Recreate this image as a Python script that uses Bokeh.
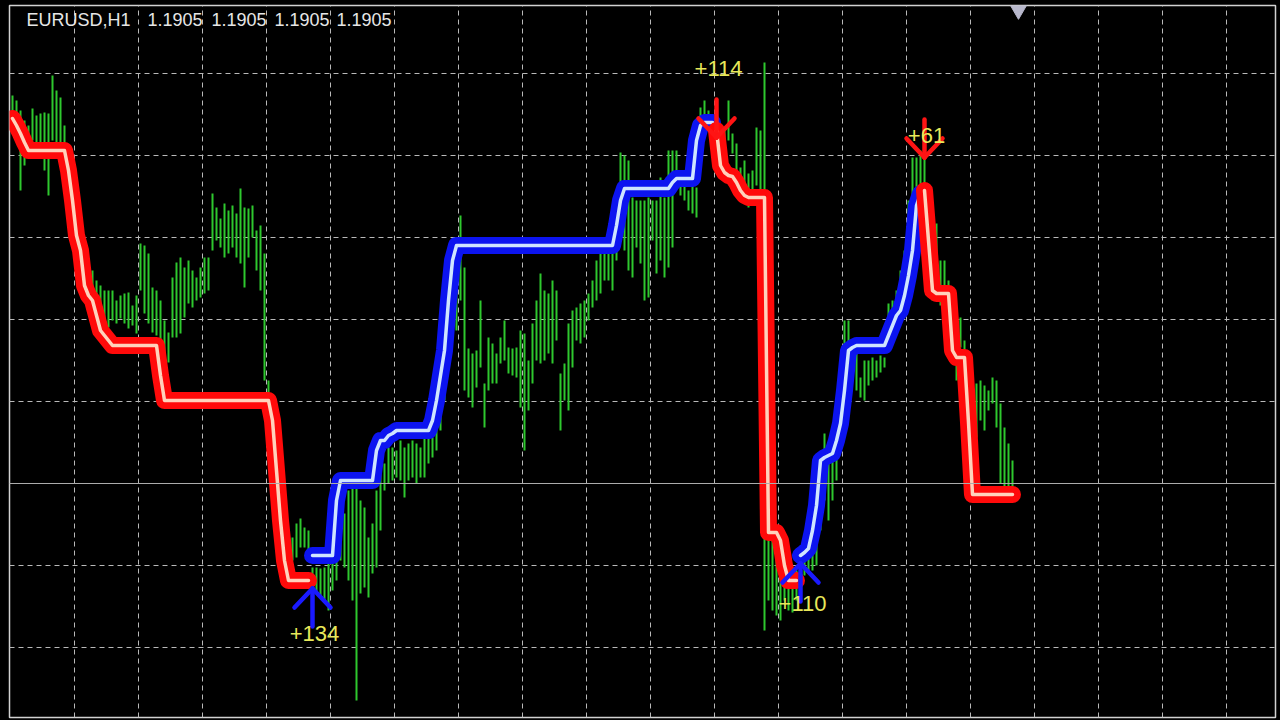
import numpy as np
from bokeh.plotting import figure
from bokeh.models import Range1d, FixedTicker, Span, Label, ColumnDataSource
from bokeh.core.properties import value
from bokeh.embed import file_html
from bokeh.resources import INLINE

# ---------------- data ----------------
symbol = "EURUSD,H1"
quote = ["1.1905", "1.1905", "1.1905", "1.1905"]
last_price = 1.1905

highs = [
    1.19826, 1.19816, 1.19796, 1.19776, 1.19766, 1.19800, 1.19786, 1.19790, 1.19792, 1.19790,
    1.19866, 1.19836, 1.19822, 1.19766, 1.19696, 1.19656, 1.19596, 1.19536, 1.19506, 1.19476,
    1.19476, 1.19456, 1.19446, 1.19436, 1.19436, 1.19436, 1.19416, 1.19426, 1.19430, 1.19432,
    1.19406, 1.19426, 1.19530, 1.19526, 1.19510, 1.19442, 1.19436, 1.19416, 1.19376, 1.19352,
    1.19462, 1.19492, 1.19502, 1.19482, 1.19496, 1.19476, 1.19462, 1.19482, 1.19502, 1.19502,
    1.19630, 1.19602, 1.19580, 1.19610, 1.19596, 1.19606, 1.19590, 1.19640, 1.19602, 1.19600,
    1.19606, 1.19556, 1.19566, 1.19510, 1.19256, 1.19216, 1.19136, 1.19056, 1.18976, 1.18956,
    1.18942, 1.18970, 1.18980, 1.18962, 1.18956, 1.18882, 1.18882, 1.18880, 1.18882, 1.18896,
    1.18936, 1.18976, 1.19016, 1.18990, 1.19036, 1.19042, 1.19042, 1.19016, 1.19002, 1.18942,
    1.18970, 1.19036, 1.19076, 1.19090, 1.19122, 1.19122, 1.19116, 1.19136, 1.19122, 1.19130,
    1.19136, 1.19130, 1.19122, 1.19142, 1.19142, 1.19142, 1.19176, 1.19256, 1.19336, 1.19436,
    1.19516, 1.19516, 1.19586, 1.19482, 1.19320, 1.19310, 1.19316, 1.19416, 1.19250, 1.19342,
    1.19330, 1.19310, 1.19342, 1.19376, 1.19322, 1.19320, 1.19322, 1.19356, 1.19350, 1.19296,
    1.19370, 1.19416, 1.19470, 1.19436, 1.19430, 1.19456, 1.19436, 1.19270, 1.19290, 1.19370,
    1.19396, 1.19402, 1.19410, 1.19416, 1.19430, 1.19456, 1.19496, 1.19516, 1.19536, 1.19526,
    1.19536, 1.19616, 1.19712, 1.19706, 1.19696, 1.19622, 1.19616, 1.19616, 1.19616, 1.19622,
    1.19616, 1.19616, 1.19662, 1.19622, 1.19716, 1.19716, 1.19716, 1.19676, 1.19650, 1.19636,
    1.19650, 1.19642, 1.19802, 1.19816, 1.19796, 1.19786, 1.19820, 1.19766, 1.19756, 1.19816,
    1.19750, 1.19730, 1.19682, 1.19696, 1.19670, 1.19676, 1.19762, 1.19756, 1.19892, 1.18956,
    1.18936, 1.18916, 1.18896, 1.18866, 1.18842, 1.18842, 1.18876, 1.18906, 1.18916, 1.18920,
    1.18956, 1.18996, 1.19096, 1.19150, 1.19116, 1.19096, 1.19136, 1.19196, 1.19376, 1.19376,
    1.19326, 1.19316, 1.19262, 1.19296, 1.19296, 1.19302, 1.19296, 1.19306, 1.19302, 1.19410,
    1.19416, 1.19436, 1.19476, 1.19516, 1.19616, 1.19702, 1.19702, 1.19716, 1.19756, 1.19636,
    1.19556, 1.19570, 1.19496, 1.19496, 1.19456, 1.19416, 1.19336, 1.19382, 1.19336, 1.19256,
    1.19216, 1.19250, 1.19256, 1.19246, 1.19236, 1.19262, 1.19256, 1.19210, 1.19162, 1.19130,
    1.19096,
]

lows = [
    1.19766, 1.19756, 1.19636, 1.19686, 1.19716, 1.19736, 1.19716, 1.19726, 1.19676, 1.19626,
    1.19736, 1.19730, 1.19732, 1.19726, 1.19616, 1.19556, 1.19496, 1.19456, 1.19416, 1.19416,
    1.19396, 1.19386, 1.19376, 1.19366, 1.19362, 1.19376, 1.19370, 1.19380, 1.19370, 1.19360,
    1.19366, 1.19350, 1.19436, 1.19390, 1.19370, 1.19352, 1.19346, 1.19296, 1.19286, 1.19292,
    1.19342, 1.19342, 1.19350, 1.19382, 1.19410, 1.19402, 1.19416, 1.19422, 1.19430, 1.19436,
    1.19516, 1.19536, 1.19522, 1.19502, 1.19510, 1.19522, 1.19502, 1.19490, 1.19442, 1.19502,
    1.19542, 1.19476, 1.19436, 1.19256, 1.19196, 1.19136, 1.19036, 1.18956, 1.18886, 1.18866,
    1.18896, 1.18902, 1.18922, 1.18922, 1.18896, 1.18842, 1.18830, 1.18822, 1.18816, 1.18796,
    1.18836, 1.18856, 1.18896, 1.18882, 1.18856, 1.18816, 1.18616, 1.18830, 1.18842, 1.18822,
    1.18870, 1.18882, 1.18956, 1.19036, 1.19050, 1.19056, 1.19062, 1.19056, 1.19022, 1.19056,
    1.19062, 1.19050, 1.19062, 1.19062, 1.19090, 1.19102, 1.19116, 1.19156, 1.19216, 1.19296,
    1.19376, 1.19356, 1.19416, 1.19236, 1.19222, 1.19202, 1.19242, 1.19282, 1.19162, 1.19236,
    1.19250, 1.19250, 1.19290, 1.19296, 1.19270, 1.19266, 1.19262, 1.19202, 1.19116, 1.19196,
    1.19250, 1.19296, 1.19290, 1.19296, 1.19310, 1.19290, 1.19336, 1.19156, 1.19216, 1.19196,
    1.19282, 1.19336, 1.19330, 1.19342, 1.19376, 1.19402, 1.19416, 1.19430, 1.19456, 1.19456,
    1.19436, 1.19496, 1.19556, 1.19516, 1.19476, 1.19462, 1.19522, 1.19490, 1.19416, 1.19422,
    1.19536, 1.19470, 1.19496, 1.19462, 1.19482, 1.19522, 1.19642, 1.19626, 1.19616, 1.19596,
    1.19590, 1.19582, 1.19746, 1.19766, 1.19756, 1.19736, 1.19716, 1.19686, 1.19676, 1.19736,
    1.19710, 1.19666, 1.19650, 1.19626, 1.19602, 1.19616, 1.19646, 1.19626, 1.18756, 1.18816,
    1.18796, 1.18786, 1.18776, 1.18816, 1.18796, 1.18792, 1.18816, 1.18836, 1.18866, 1.18870,
    1.18876, 1.18886, 1.18956, 1.19016, 1.18976, 1.19016, 1.19056, 1.19116, 1.19216, 1.19296,
    1.19256, 1.19236, 1.19222, 1.19216, 1.19246, 1.19256, 1.19262, 1.19272, 1.19282, 1.19336,
    1.19356, 1.19366, 1.19396, 1.19436, 1.19476, 1.19556, 1.19616, 1.19636, 1.19626, 1.19516,
    1.19416, 1.19416, 1.19406, 1.19416, 1.19396, 1.19296, 1.19256, 1.19322, 1.19216, 1.19136,
    1.19116, 1.19142, 1.19176, 1.19156, 1.19196, 1.19210, 1.19162, 1.19050, 1.19042, 1.19036,
    1.19026,
]

trend = [
    1.19780, 1.19766, 1.19750, 1.19732, 1.19716, 1.19716, 1.19716, 1.19716, 1.19716, 1.19716,
    1.19716, 1.19716, 1.19716, 1.19716, 1.19676, 1.19616, 1.19546, 1.19516, 1.19446, 1.19426,
    1.19416, 1.19386, 1.19356, 1.19346, 1.19336, 1.19326, 1.19326, 1.19326, 1.19326, 1.19326,
    1.19326, 1.19326, 1.19326, 1.19326, 1.19326, 1.19326, 1.19326, 1.19266, 1.19216, 1.19216,
    1.19216, 1.19216, 1.19216, 1.19216, 1.19216, 1.19216, 1.19216, 1.19216, 1.19216, 1.19216,
    1.19216, 1.19216, 1.19216, 1.19216, 1.19216, 1.19216, 1.19216, 1.19216, 1.19216, 1.19216,
    1.19216, 1.19216, 1.19216, 1.19216, 1.19216, 1.19176, 1.19076, 1.18976, 1.18896, 1.18856,
    1.18856, 1.18856, 1.18856, 1.18856, 1.18856, 1.18906, 1.18906, 1.18906, 1.18906, 1.18906,
    1.18906, 1.19016, 1.19056, 1.19056, 1.19056, 1.19056, 1.19056, 1.19056, 1.19056, 1.19056,
    1.19056, 1.19116, 1.19136, 1.19136, 1.19146, 1.19150, 1.19156, 1.19156, 1.19156, 1.19156,
    1.19156, 1.19156, 1.19156, 1.19156, 1.19156, 1.19176, 1.19216, 1.19266, 1.19316, 1.19416,
    1.19496, 1.19526, 1.19526, 1.19526, 1.19526, 1.19526, 1.19526, 1.19526, 1.19526, 1.19526,
    1.19526, 1.19526, 1.19526, 1.19526, 1.19526, 1.19526, 1.19526, 1.19526, 1.19526, 1.19526,
    1.19526, 1.19526, 1.19526, 1.19526, 1.19526, 1.19526, 1.19526, 1.19526, 1.19526, 1.19526,
    1.19526, 1.19526, 1.19526, 1.19526, 1.19526, 1.19526, 1.19526, 1.19526, 1.19526, 1.19526,
    1.19526, 1.19566, 1.19616, 1.19640, 1.19640, 1.19640, 1.19640, 1.19640, 1.19640, 1.19640,
    1.19640, 1.19640, 1.19640, 1.19640, 1.19640, 1.19652, 1.19660, 1.19660, 1.19660, 1.19660,
    1.19660, 1.19736, 1.19766, 1.19772, 1.19772, 1.19772, 1.19756, 1.19686, 1.19672, 1.19666,
    1.19664, 1.19652, 1.19636, 1.19626, 1.19622, 1.19622, 1.19622, 1.19622, 1.19622, 1.18952,
    1.18952, 1.18952, 1.18936, 1.18886, 1.18856, 1.18856, 1.18856, 1.18906, 1.18912, 1.18920,
    1.18956, 1.19006, 1.19096, 1.19102, 1.19106, 1.19110, 1.19136, 1.19170, 1.19236, 1.19316,
    1.19322, 1.19326, 1.19326, 1.19326, 1.19326, 1.19326, 1.19326, 1.19326, 1.19326, 1.19346,
    1.19366, 1.19386, 1.19396, 1.19426, 1.19466, 1.19516, 1.19606, 1.19630, 1.19636, 1.19536,
    1.19436, 1.19430, 1.19430, 1.19430, 1.19430, 1.19316, 1.19302, 1.19302, 1.19302, 1.19172,
    1.19028, 1.19028, 1.19028, 1.19028, 1.19028, 1.19028, 1.19028, 1.19028, 1.19028, 1.19028,
    1.19028,
]

signal_bars = [75, 176, 197, 228]
signal_side = ["buy", "sell", "buy", "sell"]
signal_text = ["+134", "+114", "+110", "+61"]
arrow_prices = [1.18840, 1.19742, 1.18890, 1.19702]
label_prices = [1.18750, 1.19880, 1.18810, 1.19746]

assert len(highs) == len(lows) == len(trend)
n = len(highs)

# ---------------- figure ----------------
W, H = 1280, 720
BL, BR, BT, BB = 9, 5, 5, 3          # frame inset inside the canvas
FW, FH = W - BL - BR, H - BT - BB
x_start = -0.75
x_end = x_start + FW / 4.0
y_end = 1.20006
y_start = y_end - FH * 0.00002
dxp = (x_end - x_start) / FW
dyp = (y_end - y_start) / FH

p = figure(width=W, height=H, output_backend="svg", toolbar_location=None,
           x_range=Range1d(x_start, x_end), y_range=Range1d(y_start, y_end),
           x_axis_location=None, y_axis_location=None,
           min_border_left=BL, min_border_right=BR, min_border_top=BT, min_border_bottom=BB,
           background_fill_color="#000000", border_fill_color="#000000",
           outline_line_color="#d2d2d2", outline_line_width=1.5)

grid_color = "#b9b9b9"
p.xgrid.ticker = FixedTicker(ticks=list(np.arange(15.5, x_end, 16.0)))
p.ygrid.ticker = FixedTicker(ticks=list(last_price + 0.00164 * np.arange(-3, 7)))
for g in (p.xgrid, p.ygrid):
    g.grid_line_color = grid_color
    g.grid_line_width = 1
    g.grid_line_dash = "5 4"

# current price line
p.add_layout(Span(location=last_price, dimension="width",
                  line_color="#acacac", line_width=1))

# price bars
x = np.arange(n)
src = ColumnDataSource(dict(x=x, high=highs, low=lows))
p.segment(x0="x", y0="low", x1="x", y1="high", source=src,
          line_color="#2ec82e", line_width=2)

# trend line segments
starts = [0] + signal_bars
ends = [b - 1 for b in signal_bars] + [n - 1]
sides = ["sell"] + signal_side
styles = {"sell": ("#ff0a0a", "#ffd2bc"), "buy": ("#0c14f0", "#cfe4ff")}
for k in range(len(starts)):
    s, e = starts[k], ends[k]
    outer, inner = styles[sides[k]]
    xs = list(x[s:e + 1])
    ys = trend[s:e + 1]
    p.line(xs, ys, line_color=outer, line_width=17, line_join="round", line_cap="round")
    p.line(xs, ys, line_color=inner, line_width=3.5, line_join="round", line_cap="round")

# signal arrows
ax0, ay0, ax1, ay1, acol = [], [], [], [], []
for b, side, pr in zip(signal_bars, signal_side, arrow_prices):
    sgn = -1 if side == "buy" else 1
    col = "#1a1aff" if side == "buy" else "#ff1414"
    segs = [((b, pr), (b, pr + sgn * 38 * dyp)),
            ((b, pr), (b - 18 * dxp, pr + sgn * 19 * dyp)),
            ((b, pr), (b + 18 * dxp, pr + sgn * 19 * dyp))]
    for (a, c) in segs:
        ax0.append(a[0]); ay0.append(a[1]); ax1.append(c[0]); ay1.append(c[1]); acol.append(col)
p.segment(x0=ax0, y0=ay0, x1=ax1, y1=ay1, line_color=acol, line_width=4.5, line_cap="round")

# profit labels
p.text(x=signal_bars, y=label_prices, text=signal_text, x_offset=2,
       text_font=value("Liberation Sans"), text_font_size="22px",
       text_align="center", text_baseline="middle", text_color="#e8e85a")

# chart-shift marker
p.scatter(x=[n - 1 + 1.5], y=[y_end], marker="inverted_triangle", size=24,
          fill_color="#b8b8cc", line_color="#b8b8cc")

# header text
hdr_x = [17, 138, 202, 265, 327]
hdr_t = [symbol] + quote
for hx, ht in zip(hdr_x, hdr_t):
    p.add_layout(Label(x=hx, y=698, x_units="screen", y_units="screen", text=ht,
                       text_font="Liberation Sans", text_font_size="18px",
                       text_color="#e6e6e6", text_baseline="alphabetic"))

html = file_html(p, INLINE, title="EURUSD,H1")
html = html.replace("</head>", "<style>html,body{background:#000000;}</style></head>", 1)
open("out.html", "w").write(html)
